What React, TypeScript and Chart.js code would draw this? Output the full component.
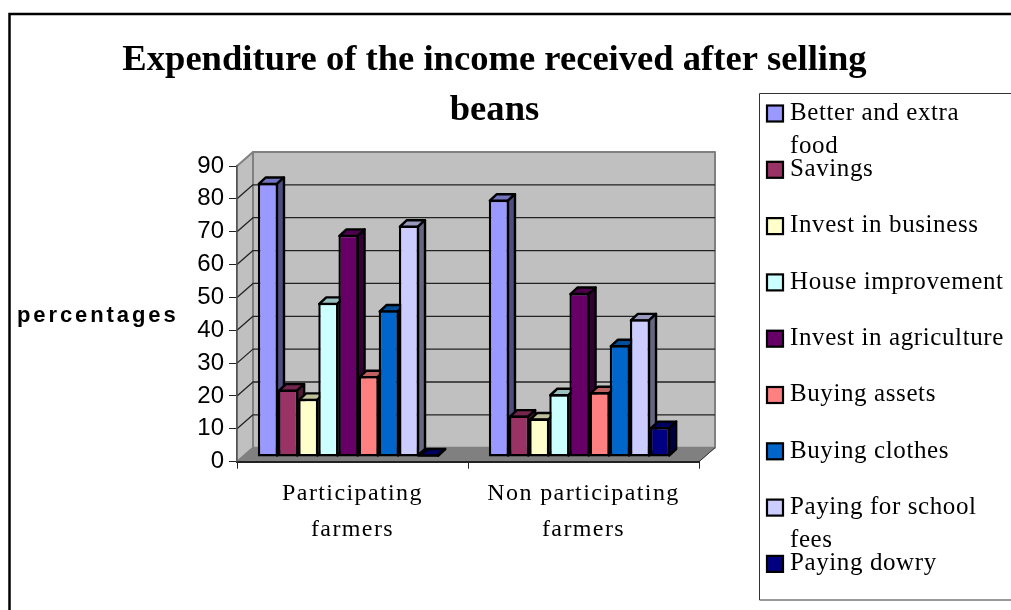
import React, { useEffect, useRef } from "react";
import { Chart, registerables } from "chart.js";

Chart.register(...registerables);

const titleLines = ["Expenditure of the income received after selling", "beans"];
const yAxisLabel = "percentages";
const categories = [["Participating", "farmers"], ["Non participating", "farmers"]];
const seriesNames = [
  "Better and extra food",
  "Savings",
  "Invest in business",
  "House improvement",
  "Invest in agriculture",
  "Buying assets",
  "Buying clothes",
  "Paying for school fees",
  "Paying dowry",
];
const legendLines = [
  ["Better and extra", "food"],
  ["Savings"],
  ["Invest in business"],
  ["House improvement"],
  ["Invest in agriculture"],
  ["Buying assets"],
  ["Buying clothes"],
  ["Paying for school", "fees"],
  ["Paying dowry"],
];
const participating = [83.4, 20.5, 17.7, 46.9, 67.6, 24.6, 44.6, 70.4, 0.5];
const nonParticipating = [78.3, 12.6, 11.7, 19.1, 49.9, 19.7, 34, 41.9, 9.1];
const colors = ["#9999FF", "#993366", "#FFFFCC", "#CCFFFF", "#660066", "#FF8080", "#0066CC", "#CCCCFF", "#000080"];

const WALL_DX = 16;
const WALL_DY = 14;
const BAR_DX = 7;
const BAR_DY = 6.5;
const SHIFT_X = -4;
const SHIFT_Y = -4.7;

function shade(hex: string, f: number) {
  const n = parseInt(hex.slice(1), 16);
  const r = Math.round(((n >> 16) & 255) * f);
  const g = Math.round(((n >> 8) & 255) * f);
  const b = Math.round((n & 255) * f);
  return `rgb(${r},${g},${b})`;
}

function poly(ctx: CanvasRenderingContext2D, pts: number[][], fill: string, stroke: string, lw: number) {
  ctx.beginPath();
  pts.forEach((p, i) => (i ? ctx.lineTo(p[0], p[1]) : ctx.moveTo(p[0], p[1])));
  ctx.closePath();
  ctx.fillStyle = fill;
  ctx.fill();
  ctx.strokeStyle = stroke;
  ctx.lineWidth = lw;
  ctx.lineJoin = "round";
  ctx.stroke();
}

const scene3d = {
  id: "scene3d",
  afterLayout(chart: any) {
    chart.titleBlock.left = 0;
    chart.titleBlock.right = 989;
    const x = chart.scales.x;
    if (!x.__patched) {
      x.__patched = true;
      const orig = x.drawLabels;
      x.drawLabels = function (area: any) {
        const c = this.ctx;
        c.save();
        c.letterSpacing = "1.4px";
        orig.call(this, area);
        c.restore();
      };
    }
  },
  beforeDraw(chart: any) {
    const ctx = chart.ctx;
    const { left: L, right: R, top: T, bottom: B } = chart.chartArea;
    ctx.save();
    poly(ctx, [[L + WALL_DX, T - WALL_DY], [R + WALL_DX, T - WALL_DY], [R + WALL_DX, B - WALL_DY], [L + WALL_DX, B - WALL_DY]], "#C0C0C0", "#808080", 2);
    poly(ctx, [[L, T], [L + WALL_DX, T - WALL_DY], [L + WALL_DX, B - WALL_DY], [L, B]], "#C0C0C0", "#808080", 2);
    poly(ctx, [[L, B], [L + WALL_DX, B - WALL_DY], [R + WALL_DX, B - WALL_DY], [R, B]], "#808080", "#808080", 1);
    ctx.strokeStyle = "#222";
    ctx.lineWidth = 1.3;
    chart.scales.y.ticks.forEach((t: any) => {
      if (t.value === 0 || t.value === 90) return;
      const y = chart.scales.y.getPixelForValue(t.value);
      ctx.beginPath();
      ctx.moveTo(L, y);
      ctx.lineTo(L + WALL_DX, y - WALL_DY);
      ctx.lineTo(R + WALL_DX, y - WALL_DY);
      ctx.stroke();
    });
    ctx.beginPath();
    ctx.moveTo(R, B);
    ctx.lineTo(R + WALL_DX, B - WALL_DY);
    ctx.strokeStyle = "#333";
    ctx.lineWidth = 1;
    ctx.stroke();
    ctx.restore();
  },
  // Bars are painted left to right so each front face covers its left neighbour's side face.
  beforeDatasetsDraw(chart: any) {
    const ctx = chart.ctx;
    ctx.save();
    ctx.translate(SHIFT_X, SHIFT_Y);
    chart.data.datasets.forEach((ds: any, i: number) => {
      const meta = chart.getDatasetMeta(i);
      meta.data.forEach((bar: any) => {
        const l = bar.x - bar.width / 2 + 1;
        const r = bar.x + bar.width / 2 - 1;
        const t = Math.min(bar.y, bar.base - 2) + 1;
        const b = bar.base - 1;
        poly(ctx, [[l, t], [l + BAR_DX, t - BAR_DY], [r + BAR_DX, t - BAR_DY], [r, t]], shade(ds.backgroundColor, 0.75), "#000", 2.4);
        poly(ctx, [[r, t], [r + BAR_DX, t - BAR_DY], [r + BAR_DX, b - BAR_DY], [r, b]], shade(ds.backgroundColor, 0.5), "#000", 2.4);
      });
      meta.controller.draw();
    });
    ctx.restore();
    return false;
  },
  afterDraw(chart: any) {
    const ctx = chart.ctx;
    ctx.save();
    // Outer frame
    ctx.strokeStyle = "#000";
    ctx.lineWidth = 2.5;
    ctx.beginPath();
    ctx.moveTo(9.5, 610);
    ctx.lineTo(9.5, 14);
    ctx.lineTo(1011, 14);
    ctx.stroke();
    // Legend box
    ctx.lineWidth = 1;
    ctx.strokeStyle = "#333";
    ctx.beginPath();
    ctx.moveTo(1011, 93.5);
    ctx.lineTo(759.5, 93.5);
    ctx.lineTo(759.5, 600);
    ctx.lineTo(1011, 600);
    ctx.stroke();
    // Legend entries
    ctx.letterSpacing = "0.6px";
    ctx.font = "25px 'Liberation Serif'";
    ctx.textAlign = "left";
    ctx.textBaseline = "alphabetic";
    legendLines.forEach((lines, i) => {
      const cy = 113.5 + 56.3 * i;
      ctx.fillStyle = chart.data.datasets[i].backgroundColor;
      ctx.strokeStyle = "#000";
      ctx.lineWidth = 2.2;
      ctx.fillRect(767, cy - 8, 16, 16);
      ctx.strokeRect(767, cy - 8, 16, 16);
      ctx.fillStyle = "#000";
      lines.forEach((s, j) => ctx.fillText(s, 790, 119.7 + 56.3 * i + j * 33));
    });
    // Horizontal y-axis label
    ctx.font = "bold 22px 'Liberation Sans'";
    ctx.letterSpacing = "2.9px";
    ctx.fillText(yAxisLabel, 17, 321.5);
    ctx.restore();
  },
};

export default function App() {
  const ref = useRef<HTMLCanvasElement>(null);
  useEffect(() => {
    document.body.style.margin = "0";
    document.body.style.background = "#fff";
    const chart = new Chart(ref.current!, {
      type: "bar",
      data: {
        labels: categories as any,
        datasets: seriesNames.map((name, i) => ({
          label: name,
          data: [participating[i], nonParticipating[i]],
          backgroundColor: colors[i],
          borderColor: "#000",
          borderWidth: 2.4,
          borderSkipped: false,
          categoryPercentage: 0.785,
          barPercentage: 1,
        })),
      },
      options: {
        responsive: false,
        animation: false,
        layout: { padding: { left: 0, right: 312, top: 0, bottom: 0 } },
        plugins: {
          legend: { display: false },
          tooltip: { enabled: false },
          title: {
            display: true,
            text: titleLines,
            color: "#000",
            font: { family: "'Liberation Serif'", size: 36.6, weight: "bold", lineHeight: 50 / 36.6 },
            padding: { top: 36, bottom: 30 },
          },
        },
        scales: {
          x: {
            afterFit: (s: any) => { s.height = 148.3; },
            grid: { drawOnChartArea: false, color: "#222", tickLength: 7, offset: true },
            border: { color: "#222", width: 2 },
            ticks: {
              color: "#000",
              autoSkip: false,
              maxRotation: 0,
              padding: 7,
              font: { family: "'Liberation Serif'", size: 24, lineHeight: 1.5 },
            },
          },
          y: {
            min: 0,
            max: 90,
            afterFit: (s: any) => { s.width = 237; },
            grid: { drawOnChartArea: false, color: "#222", tickLength: 8 },
            border: { color: "#555", width: 1.5 },
            ticks: {
              stepSize: 10,
              color: "#000",
              padding: 5,
              font: { family: "'Liberation Sans'", size: 24 },
            },
          },
        },
      },
      plugins: [scene3d as any],
    });
    return () => chart.destroy();
  }, []);
  return <canvas ref={ref} width={1011} height={610} style={{ display: "block", position: "absolute", left: 0, top: 0 }} />;
}
